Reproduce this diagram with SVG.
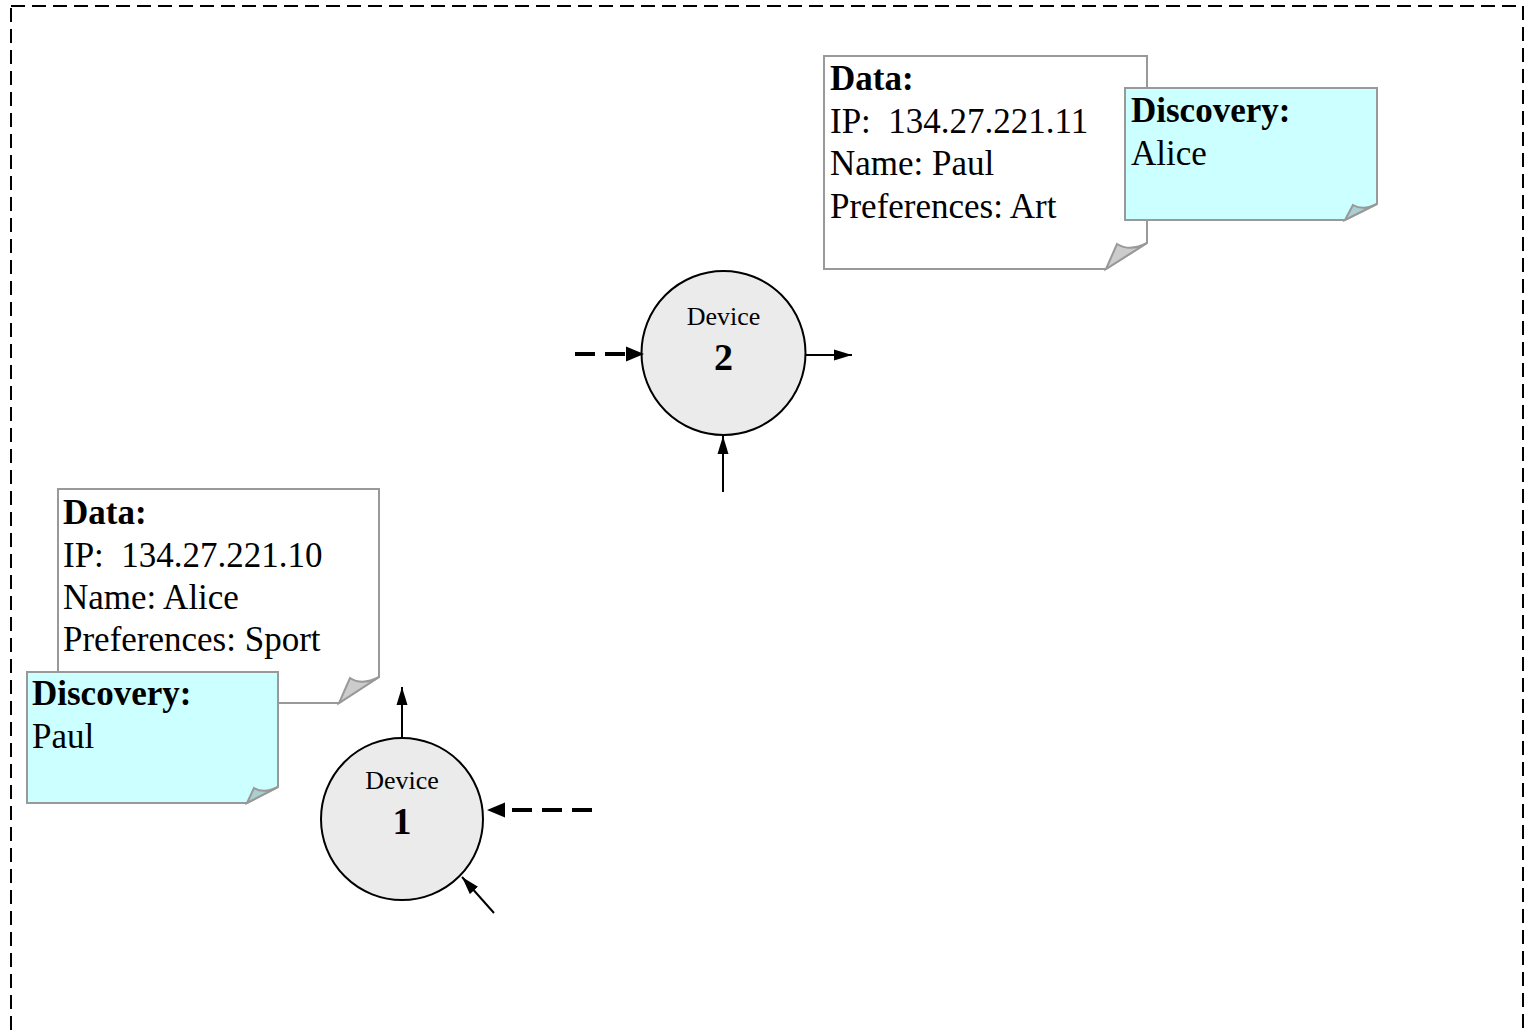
<svg xmlns="http://www.w3.org/2000/svg" width="1531" height="1034" viewBox="0 0 1531 1034">
<style>
.note{fill:#ffffff;stroke:#999999;stroke-width:2}
.disc{fill:#ccffff;stroke:#999999;stroke-width:2}
.fold{fill:#cccccc;stroke:#999999;stroke-width:2}
.dfold{fill:#a9cfd2;stroke:#999999;stroke-width:2}
.t{font-family:"Liberation Serif","Times New Roman",serif;font-size:35px;fill:#000}
.b{font-weight:bold}
.dev{fill:#ebebeb;stroke:#000;stroke-width:2}
.dl{font-family:"Liberation Serif","Times New Roman",serif;font-size:26px;fill:#000;text-anchor:middle}
.dn{font-family:"Liberation Serif","Times New Roman",serif;font-size:38px;font-weight:bold;fill:#000;text-anchor:middle}
.solid{stroke:#000;stroke-width:2;fill:none;marker-end:url(#ah)}
.dash{stroke:#000;stroke-width:4;fill:none;stroke-dasharray:20 10;marker-end:url(#ahd)}
</style>
<defs>
<marker id="ah" markerUnits="userSpaceOnUse" markerWidth="18" markerHeight="12" refX="18" refY="6" orient="auto">
<path d="M0,0.5 L18,6 L0,11.5 Z" fill="#000"/>
</marker>
<marker id="ahd" markerUnits="userSpaceOnUse" markerWidth="18" markerHeight="16" refX="0" refY="8" orient="auto">
<path d="M0,0.5 L18,8 L0,15.5 Z" fill="#000"/>
</marker>
</defs>
<rect id="frame" x="11" y="6" width="1512" height="1100" fill="none" stroke="#000" stroke-width="2" stroke-dasharray="14 7"/>
<g id="note-data2">
<path class="note" d="M824,56 H1147 V243 L1106,269 H824 Z"/>
<path class="fold" d="M1147,243 Q1130,252 1117,244 L1106,269 Z"/>
<text class="t b" x="830" y="90">Data:</text>
<text class="t" x="830" y="132.5">IP:&#160; 134.27.221.11</text>
<text class="t" x="830" y="175">Name: Paul</text>
<text class="t" x="830" y="217.5">Preferences: Art</text>
</g>
<g id="note-disc2">
<path class="disc" d="M1125,88 H1377 V204 L1345,220 H1125 Z"/>
<path class="dfold" d="M1377,204 Q1363,211 1353,205 L1345,220 Z"/>
<text class="t b" x="1131" y="122">Discovery:</text>
<text class="t" x="1131" y="165">Alice</text>
</g>
<g id="note-data1">
<path class="note" d="M58,489 H379 V677 L339,703 H58 Z"/>
<path class="fold" d="M379,677 Q362,686 350,678 L339,703 Z"/>
<text class="t b" x="63" y="524">Data:</text>
<text class="t" x="63" y="567">IP:&#160; 134.27.221.10</text>
<text class="t" x="63" y="609">Name: Alice</text>
<text class="t" x="63" y="651">Preferences: Sport</text>
</g>
<g id="note-disc1">
<path class="disc" d="M27,672 H278 V787 L247,803 H27 Z"/>
<path class="dfold" d="M278,787 Q264,794 254,788 L247,803 Z"/>
<text class="t b" x="32" y="705">Discovery:</text>
<text class="t" x="32" y="748">Paul</text>
</g>
<g id="device2">
<circle class="dev" cx="723.5" cy="353" r="82"/>
<text class="dl" x="723.5" y="325">Device</text>
<text class="dn" x="723.5" y="370">2</text>
</g>
<g id="device1">
<circle class="dev" cx="402" cy="819" r="81"/>
<text class="dl" x="402" y="789">Device</text>
<text class="dn" x="402" y="834">1</text>
</g>
<g id="connectors">
<line class="dash" x1="575" y1="354" x2="626" y2="354"/>
<line class="solid" x1="806" y1="355" x2="852" y2="355"/>
<line class="solid" x1="723" y1="492" x2="723" y2="436"/>
<line class="solid" x1="402" y1="739" x2="402" y2="687"/>
<line class="dash" x1="592" y1="810" x2="505" y2="810"/>
<line class="solid" x1="494" y1="913" x2="462" y2="877"/>
</g>
</svg>
